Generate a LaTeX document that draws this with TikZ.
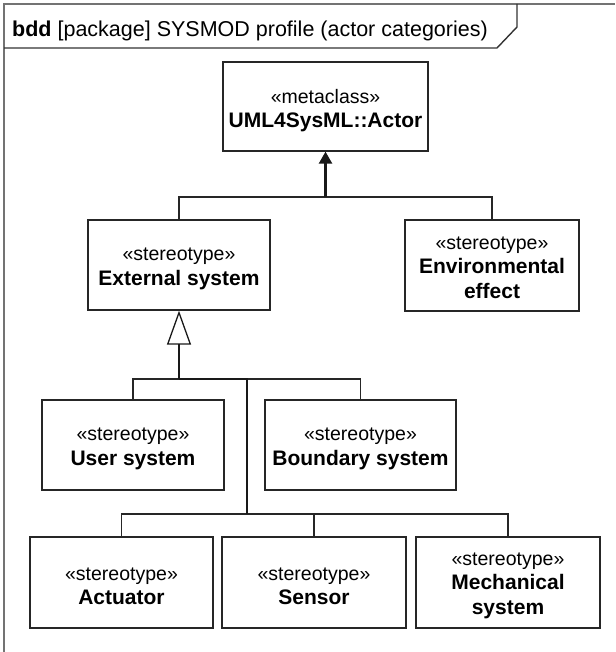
\documentclass[tikz,border=0pt]{standalone}
\usepackage{fontspec}
\setmainfont{Liberation Sans}
\usetikzlibrary{arrows.meta}
\newcommand\stlabel[1]{{\fontsize{19.5}{24.5}\selectfont «#1»}}
\newcommand\nmlabel[1]{{\fontsize{21}{24.5}\selectfont\bfseries #1}}
\begin{document}
\begin{tikzpicture}[x=1pt,y=-1pt,
  blk/.style={draw=black!85, line width=1.3pt, fill=white, inner sep=0pt},
  txt/.style={align=center, inner sep=0pt, font=\fontsize{20}{24.5}\selectfont},
  conn/.style={draw=black!85, line width=1.3pt},
  thickconn/.style={draw=black!90, line width=2.4pt},
  framecol/.style={draw=black!55, line width=1.4pt}
]
\useasboundingbox (0,0) rectangle (615,652);
\fill[white] (0,0) rectangle (615,652);
% frame
\draw[framecol] (615,4) -- (4,4) -- (4,652);
\draw[framecol, draw=black!80] (4,48) -- (497,48) -- (517,27) -- (517,4);
\node[anchor=base west, inner sep=0pt, font=\fontsize{21.5}{26}\selectfont] (title) at (12,37)
  {\textbf{bdd} [package] SYSMOD profile (actor categories)};

% blocks
\node[blk, minimum width=205, minimum height=89] (meta) at (325.5,106.5) {};
\node[txt] (metat) at ([yshift=-4pt]meta.center)
  {\stlabel{metaclass}\\\nmlabel{UML4SysML::Actor}};
\node[blk, minimum width=182, minimum height=90] (ext) at (179,265) {};
\node[txt] (extt) at ([yshift=-4pt]ext.center)
  {\stlabel{stereotype}\\\nmlabel{External system}};
\node[blk, minimum width=174, minimum height=91] (env) at (492,265.5) {};
\node[txt] (envt) at ([yshift=-2pt]env.center)
  {\stlabel{stereotype}\\\nmlabel{Environmental}\\\nmlabel{effect}};
\node[blk, minimum width=182, minimum height=90] (user) at (133,445) {};
\node[txt] (usert) at ([yshift=-4pt]user.center)
  {\stlabel{stereotype}\\\nmlabel{User system}};
\node[blk, minimum width=191, minimum height=90] (bound) at (360.5,445) {};
\node[txt] (boundt) at ([yshift=-4pt]bound.center)
  {\stlabel{stereotype}\\\nmlabel{Boundary system}};
\node[blk, minimum width=183, minimum height=91] (act) at (121.5,582.5) {};
\node[txt] (actt) at ([yshift=-4pt]act.center)
  {\stlabel{stereotype}\\\nmlabel{Actuator}};
\node[blk, minimum width=184, minimum height=91] (sens) at (314,582.5) {};
\node[txt] (senst) at ([yshift=-4pt]sens.center)
  {\stlabel{stereotype}\\\nmlabel{Sensor}};
\node[blk, minimum width=184, minimum height=91] (mech) at (508,582.5) {};
\node[txt] (mecht) at ([yshift=-3pt]mech.center)
  {\stlabel{stereotype}\\\nmlabel{Mechanical}\\\nmlabel{system}};

% level 1 generalization
\coordinate (j1) at (325.5,197);
\draw[conn] (ext.north) -- (ext.north |- j1) -- (env.north |- j1) -- (env.north);
\draw[thickconn, -{Triangle[length=12pt, width=13pt]}] (j1) -- (meta.south);

% level 2 generalization
\coordinate (j2) at (179,379);
\coordinate (j3) at (247,379);
\coordinate (j4) at (247,514);
\draw[conn] (user.north) -- (user.north |- j2) -- (bound.north |- j2) -- (bound.north);
\draw[conn] (act.north) -- (act.north |- j4) -- (mech.north |- j4) -- (mech.north);
\draw[conn] (sens.north) -- (sens.north |- j4);
\draw[thickconn, line join=miter] (j2) -- (j3) -- (j4);
\draw[thickconn, -{Triangle[open, length=34pt, width=24pt, line width=1.3pt]}] (j2) -- (ext.south);
\end{tikzpicture}
\end{document}
